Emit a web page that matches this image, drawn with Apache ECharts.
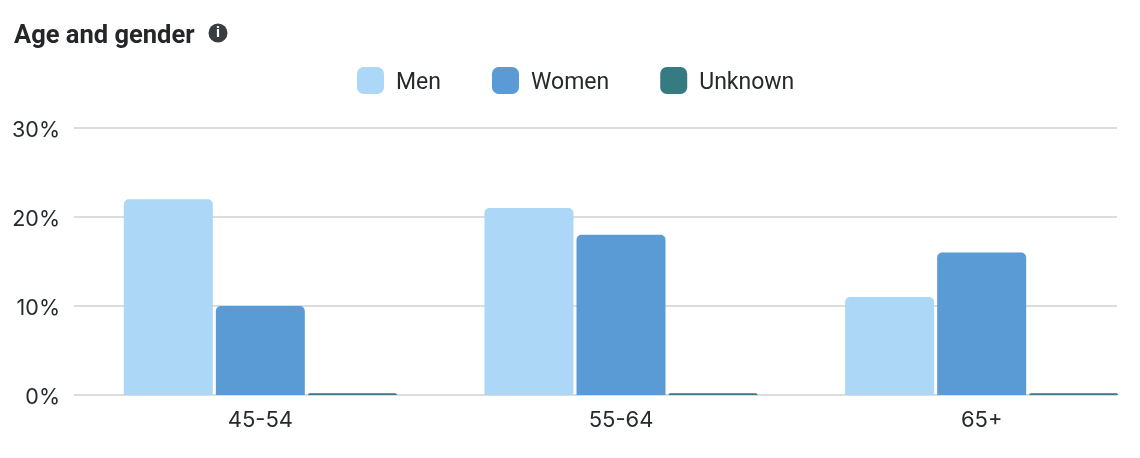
<!DOCTYPE html>
<html lang="en">

<head>
    <meta charset="UTF-8">
    <title>Age and gender</title>
    <script src="https://cdn.jsdelivr.net/npm/echarts@6/dist/echarts.min.js"></script>
    <style>
        body {
            margin: 0;
            padding: 0;
            background: #fff;
        }

        #main {
            width: 1140px;
            height: 458px;
        }
    </style>
</head>

<body>
    <div id="main"></div>

    <script>
        // chart data
        var categories = ['45-54', '55-64', '65+'];
        var men = [22, 21, 11];
        var women = [10, 18, 16];
        var unknown = [0.2, 0.2, 0.2];
        var yTicks = [0, 10, 20, 30];

        var myChart = echarts.init(document.getElementById('main'));
        var textColor = '#262a2e';
        var font = 'Roboto, sans-serif';
        var tickFont = 'Inter, sans-serif';

        function barSeries(name, color, values) {
            return {
                name: name,
                type: 'bar',
                xAxisIndex: 1,
                yAxisIndex: 1,
                barWidth: 89,
                barGap: '3.4%',
                itemStyle: {
                    color: color,
                    borderRadius: [5, 5, 0, 0]
                },
                data: values
            };
        }

        var option = {
            animation: false,
            backgroundColor: '#fff',
            title: {
                text: 'Age and gender',
                left: 9,
                top: 19,
                textStyle: {
                    fontFamily: font,
                    fontSize: 25.5,
                    fontWeight: 'bold',
                    color: '#24272a'
                }
            },
            legend: {
                top: 62,
                left: 352,
                icon: 'roundRect',
                itemWidth: 27,
                itemHeight: 27,
                itemGap: 51,
                formatter: '{a|{name}}',
                textStyle: {
                    rich: {
                        a: {
                            fontFamily: font,
                            fontSize: 23,
                            color: textColor,
                            padding: [5, 0, 0, 7]
                        }
                    }
                },
                data: ['Men', 'Women', 'Unknown']
            },
            // first grid holds the y scale, second is the bar band (runs past the right edge)
            grid: [
                { left: 74, right: 23, top: 128, bottom: 63 },
                { left: 80, right: -22, top: 128, bottom: 63, outerBoundsMode: 'none' }
            ],
            xAxis: [
                { type: 'value', gridIndex: 0, show: false },
                {
                    type: 'category',
                    gridIndex: 1,
                    data: categories,
                    axisLine: { show: false },
                    axisTick: { show: false },
                    axisLabel: {
                        margin: 14,
                        fontFamily: tickFont,
                        fontSize: 22,
                        color: textColor
                    }
                }
            ],
            yAxis: [
                {
                    type: 'value',
                    gridIndex: 0,
                    min: yTicks[0],
                    max: yTicks[yTicks.length - 1],
                    interval: 10,
                    axisLine: { show: false },
                    axisTick: { show: false },
                    splitLine: { lineStyle: { color: '#dcdcdc', width: 2 } },
                    axisLabel: {
                        margin: 14,
                        verticalAlign: 'top',
                        lineHeight: 5,
                        fontFamily: tickFont,
                        fontSize: 21.5,
                        color: textColor,
                        formatter: '{value}%'
                    }
                },
                {
                    type: 'value',
                    gridIndex: 1,
                    min: yTicks[0],
                    max: yTicks[yTicks.length - 1],
                    show: false
                }
            ],
            series: [
                barSeries('Men', '#add7f6', men),
                barSeries('Women', '#5b9bd5', women),
                barSeries('Unknown', '#367b82', unknown)
            ],
            graphic: [
                {
                    type: 'circle',
                    shape: { cx: 218, cy: 33, r: 9.5 },
                    style: { fill: '#3a3d40' }
                },
                {
                    type: 'text',
                    x: 218,
                    y: 33,
                    style: {
                        text: 'i',
                        fill: '#fff',
                        font: 'bold 15px Roboto, sans-serif',
                        align: 'center',
                        verticalAlign: 'middle'
                    }
                }
            ]
        };

        myChart.setOption(option);
    </script>
</body>

</html>
